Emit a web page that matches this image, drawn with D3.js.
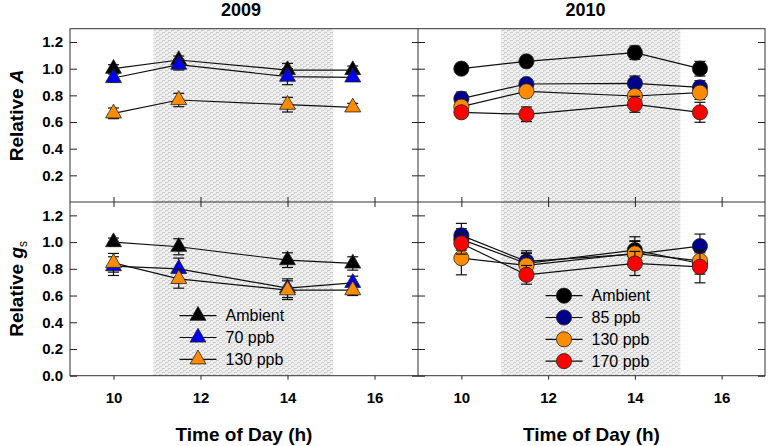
<!DOCTYPE html>
<html>
<head>
<meta charset="utf-8">
<script src="https://cdn.jsdelivr.net/npm/d3@7/dist/d3.min.js"></script>
<style>
  body { margin: 0; background: #fff; }
  svg text { font-family: "Liberation Sans", Arial, sans-serif; fill: #000; }
</style>
</head>
<body>
<div id="chart"></div>
<script>
// ---- data ----
const hours = [10, 11.5, 14, 15.5];
const shadeHours = [10.92, 15.05];
const xTicks = [10, 12, 14, 16];
const yTicksTop = [0.2, 0.4, 0.6, 0.8, 1.0, 1.2];
const yTicksBot = [0.0, 0.2, 0.4, 0.6, 0.8, 1.0, 1.2];

const series2009 = ["Ambient", "70 ppb", "130 ppb"];
const colors2009 = ["#000000", "#0000f0", "#ff8c00"];
const series2010 = ["Ambient", "85 ppb", "130 ppb", "170 ppb"];
const colors2010 = ["#000000", "#00008b", "#ff8c00", "#ff0000"];

// relative A, 2009
const a2009 = [[1.00, 1.065, 0.99, 0.99], [0.93, 1.03, 0.94, 0.935], [0.665, 0.765, 0.73, 0.71]];
const a2009Err = [[0.03, 0.03, 0.05, 0.03], [0.03, 0.04, 0.06, 0.03], [0.04, 0.05, 0.055, 0.03]];
// relative A, 2010
const a2010 = [[1.00, 1.055, 1.12, 1.00], [0.775, 0.885, 0.89, 0.86], [0.715, 0.83, 0.795, 0.82], [0.673, 0.658, 0.733, 0.673]];
const a2010Err = [[0.02, 0.03, 0.05, 0.055], [0.05, 0.03, 0.055, 0.05], [0.04, 0.04, 0.04, 0.05], [0.04, 0.055, 0.06, 0.075]];
// relative gs, 2009
const gs2009 = [[1.00, 0.965, 0.865, 0.84], [0.82, 0.80, 0.655, 0.695], [0.845, 0.725, 0.64, 0.64]];
const gs2009Err = [[0.03, 0.06, 0.055, 0.05], [0.07, 0.08, 0.07, 0.05], [0.07, 0.07, 0.07, 0.04]];
// relative gs, 2010
const gs2010 = [[1.02, 0.84, 0.94, 0.84], [1.05, 0.855, 0.91, 0.97], [0.88, 0.825, 0.915, 0.86], [0.99, 0.755, 0.84, 0.815]];
const gs2010Err = [[0.08, 0.08, 0.1, 0.08], [0.09, 0.08, 0.1, 0.09], [0.125, 0.09, 0.09, 0.08], [0.08, 0.07, 0.09, 0.12]];

// ---- layout ----
const W = 768, H = 446;
const pLeft = 70, pMid = 418, pRight = 765;
const pTop = 28.7, pMidY = 202, pBottom = 375.7;

const svg = d3.select("#chart").append("svg").attr("width", W).attr("height", H);

// dotted grey fill for the shaded period
const defs = svg.append("defs");
const pat = defs.append("pattern").attr("id", "dots")
    .attr("patternUnits", "userSpaceOnUse").attr("width", 6).attr("height", 4);
pat.append("rect").attr("width", 6).attr("height", 4).attr("fill", "#f0f0f0");
pat.append("rect").attr("x", 0).attr("y", 0).attr("width", 3).attr("height", 1).attr("fill", "#cdcdcd");
pat.append("rect").attr("x", 3).attr("y", 2).attr("width", 3).attr("height", 1).attr("fill", "#cdcdcd");
pat.append("rect").attr("x", 0).attr("y", 1).attr("width", 1).attr("height", 1).attr("fill", "#d8d8d8");
pat.append("rect").attr("x", 3).attr("y", 3).attr("width", 1).attr("height", 1).attr("fill", "#d8d8d8");

const xL = d3.scaleLinear().domain([9, 17]).range([pLeft, pMid]);
const xR = d3.scaleLinear().domain([9, 17]).range([pMid, pRight]);
const yT = d3.scaleLinear().domain([0, 1.3]).range([pMidY, pTop]);
const yB = d3.scaleLinear().domain([0, 1.3]).range([pBottom, pMidY]);

[xL, xR].forEach(x => {
    svg.append("rect")
        .attr("x", x(shadeHours[0])).attr("y", pTop)
        .attr("width", x(shadeHours[1]) - x(shadeHours[0]))
        .attr("height", pBottom - pTop)
        .attr("fill", "url(#dots)");
});

// ---- axes / frame ----
const frame = svg.append("g").attr("stroke", "#333").attr("fill", "none").attr("stroke-width", 1);
frame.append("rect").attr("x", pLeft).attr("y", pTop).attr("width", pRight - pLeft).attr("height", pBottom - pTop);
frame.append("line").attr("x1", pLeft).attr("x2", pRight).attr("y1", pMidY).attr("y2", pMidY);
frame.append("line").attr("x1", pMid).attr("x2", pMid).attr("y1", pTop).attr("y2", pBottom);

function styleAxis(g) {
    g.select(".domain").remove();
    g.selectAll(".tick line").attr("stroke", "#222");
    g.selectAll("text").attr("font-size", 15).attr("font-weight", "bold")
        .attr("font-family", "'Liberation Sans', Arial, sans-serif");
}

// left y axes with labels
svg.append("g").attr("transform", `translate(${pLeft},0)`)
    .call(d3.axisLeft(yT).tickValues(yTicksTop).tickFormat(d3.format(".1f")).tickSizeInner(-7).tickSizeOuter(0).tickPadding(7))
    .call(styleAxis);
svg.append("g").attr("transform", `translate(${pLeft},0)`)
    .call(d3.axisLeft(yB).tickValues(yTicksBot).tickFormat(d3.format(".1f")).tickSizeInner(-7).tickSizeOuter(0).tickPadding(7))
    .call(styleAxis);

// ticks across the divider and on the right edge
[yT, yB].forEach((y, i) => {
    const tv = i === 0 ? yTicksTop : yTicksBot;
    svg.append("g").attr("transform", `translate(${pMid - 6},0)`)
        .call(d3.axisRight(y).tickValues(tv).tickSize(13).tickFormat(""))
        .call(styleAxis);
    svg.append("g").attr("transform", `translate(${pRight},0)`)
        .call(d3.axisLeft(y).tickValues(tv).tickSize(7).tickFormat(""))
        .call(styleAxis);
});

// x ticks across the middle line, and bottom with labels
[xL, xR].forEach(x => {
    svg.append("g").attr("transform", `translate(0,${pMidY - 5})`)
        .call(d3.axisBottom(x).tickValues(xTicks).tickSize(10).tickFormat(""))
        .call(styleAxis);
    svg.append("g").attr("transform", `translate(0,${pBottom})`)
        .call(d3.axisBottom(x).tickValues(xTicks).tickSizeInner(4).tickSizeOuter(0).tickPadding(13))
        .call(styleAxis);
});

// ---- series ----
function drawPanel(x, y, means, errs, colors, shape) {
    const g = svg.append("g");
    means.forEach((vals, s) => {
        const pts = vals.map((v, i) => ({ h: hours[i], v: v, e: errs[s][i] }));
        const sg = g.append("g");
        sg.append("path").datum(pts)
            .attr("fill", "none").attr("stroke", "#111").attr("stroke-width", 1.2)
            .attr("d", d3.line().x(d => x(d.h)).y(d => y(d.v)));
        const eb = sg.selectAll(".eb").data(pts).enter().append("g")
            .attr("stroke", "#111").attr("stroke-width", 1.2);
        eb.append("line").attr("x1", d => x(d.h)).attr("x2", d => x(d.h))
            .attr("y1", d => y(d.v - d.e)).attr("y2", d => y(d.v + d.e));
        eb.append("line").attr("x1", d => x(d.h) - 5.5).attr("x2", d => x(d.h) + 5.5)
            .attr("y1", d => y(d.v - d.e)).attr("y2", d => y(d.v - d.e));
        eb.append("line").attr("x1", d => x(d.h) - 5.5).attr("x2", d => x(d.h) + 5.5)
            .attr("y1", d => y(d.v + d.e)).attr("y2", d => y(d.v + d.e));
        sg.selectAll(".mk").data(pts).enter().append("path")
            .attr("transform", d => `translate(${x(d.h)},${y(d.v)})`)
            .attr("d", shape)
            .attr("fill", colors[s]).attr("stroke", "#222").attr("stroke-width", 0.8);
    });
}

const tri = d3.symbol().type(d3.symbolTriangle).size(110)();
const circ = d3.symbol().type(d3.symbolCircle).size(Math.PI * 7.6 * 7.6)();

drawPanel(xL, yT, a2009, a2009Err, colors2009, tri);
drawPanel(xR, yT, a2010, a2010Err, colors2010, circ);
drawPanel(xL, yB, gs2009, gs2009Err, colors2009, tri);
drawPanel(xR, yB, gs2010, gs2010Err, colors2010, circ);

// ---- legends ----
function legend(x0, y0, names, colors, shape) {
    const g = svg.append("g");
    const row = g.selectAll("g").data(names).enter().append("g")
        .attr("transform", (d, i) => `translate(${x0},${y0 + i * 21.8})`);
    row.append("line").attr("x1", 0).attr("x2", 37).attr("stroke", "#111").attr("stroke-width", 1.2);
    row.append("path").attr("transform", "translate(18.5,0)").attr("d", shape)
        .attr("fill", (d, i) => colors[i]).attr("stroke", "#222").attr("stroke-width", 0.8);
    row.append("text").attr("x", 46).attr("dy", "0.36em").attr("font-size", 16).text(d => d);
}
legend(179.5, 315.7, series2009, colors2009, tri);
legend(545.5, 295.7, series2010, colors2010, circ);

// ---- titles ----
svg.append("text").attr("x", (pLeft + pMid) / 2 - 3).attr("y", 16).attr("text-anchor", "middle")
    .attr("font-size", 18).attr("font-weight", "bold").text("2009");
svg.append("text").attr("x", (pMid + pRight) / 2 - 6).attr("y", 16).attr("text-anchor", "middle")
    .attr("font-size", 18).attr("font-weight", "bold").text("2010");

[xL, xR].forEach(x => {
    svg.append("text").attr("x", x(13)).attr("y", 441).attr("text-anchor", "middle")
        .attr("font-size", 19).attr("font-weight", "bold").text("Time of Day (h)");
});

const yl1 = svg.append("text").attr("transform", `translate(23,${(pTop + pMidY) / 2}) rotate(-90)`)
    .attr("text-anchor", "middle").attr("font-size", 19).attr("font-weight", "bold");
yl1.append("tspan").text("Relative ");
yl1.append("tspan").attr("font-style", "italic").text("A");

const yl2 = svg.append("text").attr("transform", `translate(23,${(pMidY + pBottom) / 2}) rotate(-90)`)
    .attr("text-anchor", "middle").attr("font-size", 19).attr("font-weight", "bold");
yl2.append("tspan").text("Relative ");
yl2.append("tspan").attr("font-style", "italic").text("g");
yl2.append("tspan").attr("font-size", 12).attr("font-weight", "normal").attr("dy", 4).text("s");
</script>
</body>
</html>
